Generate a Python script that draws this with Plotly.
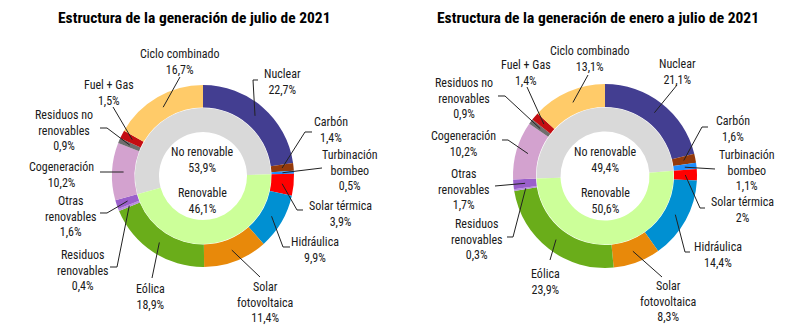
import math
import plotly.graph_objects as go

# ---------------- data ----------------
categories = ["Nuclear", "Carbón", "Turbinación bombeo", "Solar térmica", "Hidráulica",
              "Solar fotovoltaica", "Eólica", "Residuos renovables", "Otras renovables",
              "Cogeneración", "Residuos no renovables", "Fuel + Gas", "Ciclo combinado"]
label_text = ["Nuclear", "Carbón", "Turbinación<br>bombeo", "Solar térmica", "Hidráulica",
              "Solar<br>fotovoltaica", "Eólica", "Residuos<br>renovables", "Otras<br>renovables",
              "Cogeneración", "Residuos no<br>renovables", "Fuel + Gas", "Ciclo combinado"]
renewable = [False, False, False, True, True, True, True, True, True, False, False, False, False]

julio_values = [22.7, 1.4, 0.5, 3.9, 9.9, 11.4, 18.9, 0.4, 1.6, 10.2, 0.9, 1.5, 16.7]
enero_julio_values = [21.1, 1.6, 1.1, 2.0, 14.4, 8.3, 23.9, 0.3, 1.7, 10.2, 0.9, 1.4, 13.1]

inner_categories = ["No renovable", "Renovable"]
julio_inner = [53.9, 46.1]
enero_julio_inner = [49.4, 50.6]

titles = ["Estructura de la generación de julio de 2021",
          "Estructura de la generación de enero a julio de 2021"]

# ---------------- style ----------------
colors = ["#433E91", "#943A0C", "#1E8FFF", "#FF0000", "#0090D2", "#E8890A", "#6AAD1A",
          "#B98BE0", "#9A5FCB", "#D3A2CF", "#6E6E6E", "#C40D12", "#FFCB69"]
inner_colors = ["#D9D9D9", "#CCFF99"]

W, H = 800, 331
FONT = "Liberation Sans Narrow, Roboto Condensed, DejaVu Sans Condensed, Arial Narrow, sans-serif"
TXT = "#1a1a1a"

charts = [
    dict(cx=203, cy=176, R=91, r_in=68, hole=44, values=julio_values, inner=julio_inner,
         title=titles[0], tx=194, ty=18,
         labels=[
             dict(t=(79, -111), p=[(55, -96), (50, -96)]),          # Nuclear
             dict(t=(128, -63), p=[(109, -44), (102, -44)]),         # Carbón
             dict(t=(147, -30), p=[(119, -8)]),                      # Turbinación
             dict(t=(137, 21), p=[(100, 34), (94, 34)]),             # Solar térmica
             dict(t=(112, 57), p=[(87, 71), (80, 71)]),              # Hidráulica
             dict(t=(62, 102), p=[(57, 101)]),                       # FV
             dict(t=(-53, 104), p=[(-51, 102)]),                     # Eólica
             dict(t=(-121, 70), p=[(-93, 91), (-86, 91)]),           # Res. renov.
             dict(t=(-133, 16), p=[(-103, 37), (-96, 37)]),          # Otras renov.
             dict(t=(-142, -18), p=[(-103, -4)]),                    # Cogeneración
             dict(t=(-139, -70), p=[(-103, -48), (-96, -48)]),       # Res. no renov.
             dict(t=(-94, -100), p=[(-90, -69)]),                    # Fuel + Gas
             dict(t=(-24, -131), p=[(-23, -99)]),                    # Ciclo
         ]),
    dict(cx=605, cy=176, R=92, r_in=68.5, hole=44.5, values=enero_julio_values, inner=enero_julio_inner,
         title=titles[1], tx=598, ty=18,
         labels=[
             dict(t=(72, -121), p=[(72, -91)]),                      # Nuclear
             dict(t=(128, -64), p=[(103, -49), (97, -49)]),          # Carbón
             dict(t=(142, -30), p=[(110, -7)]),                      # Turbinación
             dict(t=(137, 17), p=[(100, 32), (95, 32)]),             # Solar térmica
             dict(t=(113, 62), p=[(85, 76), (80, 76)]),              # Hidráulica
             dict(t=(63, 101), p=[(57, 101)]),                       # FV
             dict(t=(-60, 89), p=[(-55, 84)]),                       # Eólica
             dict(t=(-129, 39), p=[(-98, 61), (-92, 61)]),           # Res. renov.
             dict(t=(-141, -11), p=[(-110, 10)]),                    # Otras renov.
             dict(t=(-141, -49), p=[(-103, -36), (-97, -36)]),       # Cogeneración
             dict(t=(-141, -102), p=[(-107, -80), (-100, -80)]),     # Res. no renov.
             dict(t=(-79, -120), p=[(-78, -89)]),                    # Fuel + Gas
             dict(t=(-16, -134), p=[(-17, -101)]),                   # Ciclo
         ]),
]


def fmt(v):
    s = ("%.1f" % v).rstrip("0").rstrip(".")
    return s.replace(".", ",") + "%"


def px(x):
    return x / W


def py(y):
    return 1 - y / H


fig = go.Figure()
annotations = []
shapes = []

for ch in charts:
    cx, cy, R, r_in, hole = ch["cx"], ch["cy"], ch["R"], ch["r_in"], ch["hole"]
    vals = ch["values"]
    total = sum(vals)
    # outer ring
    fig.add_trace(go.Pie(
        labels=categories, values=vals, sort=False, direction="clockwise", rotation=0,
        hole=(r_in + 0.5) / R, marker=dict(colors=colors, line=dict(width=0)),
        textinfo="none", hoverinfo="label+percent", showlegend=False,
        domain=dict(x=[px(cx - R), px(cx + R)], y=[py(cy + R), py(cy - R)]),
    ))
    # inner ring: starts where the renewables end
    start_idx = None
    for i in range(1, len(vals)):
        if renewable[i - 1] and not renewable[i]:
            start_idx = i
    inner_start = sum(vals[:start_idx]) / total * 360
    fig.add_trace(go.Pie(
        labels=inner_categories, values=ch["inner"], sort=False, direction="clockwise",
        rotation=inner_start, hole=hole / r_in,
        marker=dict(colors=inner_colors, line=dict(width=0)),
        textinfo="none", hoverinfo="label+percent", showlegend=False,
        domain=dict(x=[px(cx - r_in), px(cx + r_in)], y=[py(cy + r_in), py(cy - r_in)]),
    ))
    # centre texts
    for name, v, dy in zip(inner_categories, ch["inner"], (-33, 8)):
        annotations.append(dict(x=px(cx), y=py(cy + dy), xref="paper", yref="paper",
                                text=f"{name}<br>{fmt(v)}", showarrow=False,
                                xanchor="center", yanchor="top",
                                font=dict(size=12, color=TXT, family=FONT)))
    # title
    annotations.append(dict(x=px(ch["tx"]), y=py(ch["ty"]), xref="paper", yref="paper",
                            text=f"<b>{ch['title']}</b>", showarrow=False,
                            xanchor="center", yanchor="middle",
                            font=dict(size=15.5, color="#000000", family=FONT)))
    # slice labels + leader lines
    cum = 0.0
    r_mid = (r_in + R) / 2
    for i, v in enumerate(vals):
        mid = (cum + v / 2) / total * 2 * math.pi
        cum += v
        ex = cx + r_mid * math.sin(mid)
        ey = cy - r_mid * math.cos(mid)
        lb = ch["labels"][i]
        tx, ty = lb["t"]
        annotations.append(dict(x=px(cx + tx), y=py(cy + ty), xref="paper", yref="paper",
                                text=f"{label_text[i]}<br>{fmt(v)}", showarrow=False,
                                xanchor="center", yanchor="top",
                                font=dict(size=12, color=TXT, family=FONT)))
        pts = [(cx + dx, cy + dy) for dx, dy in lb["p"]] + [(ex, ey)]
        path = "M " + " L ".join(f"{px(x):.5f},{py(y):.5f}" for x, y in pts)
        shapes.append(dict(type="path", path=path, xref="paper", yref="paper",
                           line=dict(color="#222222", width=1)))

fig.update_layout(
    width=W, height=H, margin=dict(l=0, r=0, t=0, b=0),
    paper_bgcolor="white", plot_bgcolor="white",
    annotations=annotations, shapes=shapes,
    font=dict(family=FONT, color=TXT),
)
fig.write_html("out.html")
